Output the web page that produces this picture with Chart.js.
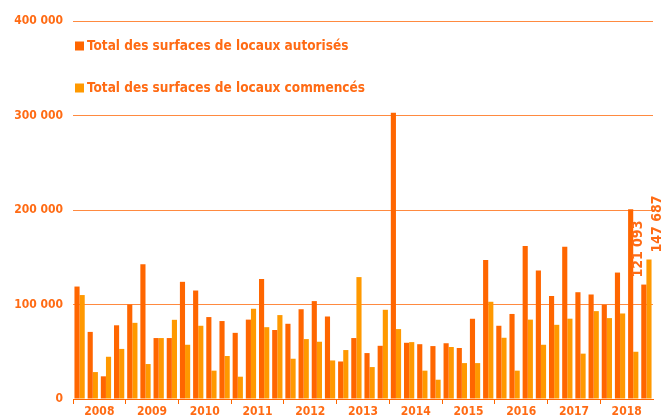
<!DOCTYPE html>
<html>
<head>
<meta charset="utf-8">
<script src="https://cdn.jsdelivr.net/npm/chart.js@4"></script>
<style>
html,body{margin:0;padding:0;background:#fff;}
#wrap{width:668px;height:419px;position:relative;}
</style>
</head>
<body>
<div id="wrap"><canvas id="c" width="668" height="419"></canvas></div>
<script>
const years = ['2008','2009','2010','2011','2012','2013','2014','2015','2016','2017','2018'];
const quarters = ['T1','T2','T3','T4'];
const yTicks = [0, 100000, 200000, 300000, 400000];
const seriesNames = ['Total des surfaces de locaux autorisés', 'Total des surfaces de locaux commencés'];
const autorises = [
  119000, 71000, 24000, 78000,
  100000, 142700, 64500, 64500,
  124000, 114800, 86700, 82500,
  70000, 84000, 127000, 73000,
  79600, 95000, 103600, 87300,
  39700, 64500, 48600, 56300,
  303000, 59500, 58000, 56000,
  59000, 54000, 84900, 147000,
  77500, 90000, 162000, 136000,
  109000, 161000, 113000, 110600,
  99700, 133800, 200800, 121093
];
const commences = [
  110000, 28500, 44700, 53000,
  80600, 37000, 64500, 83800,
  57400, 77500, 30000, 45500,
  23600, 95500, 76000, 88800,
  42600, 63400, 60600, 40800,
  51800, 129000, 33800, 94400,
  74000, 60200, 30000, 20400,
  55000, 38000, 38000, 102900,
  64800, 30000, 84000, 57400,
  78500, 85000, 48000, 93000,
  85600, 90500, 50000, 147687
];

const categories = [];
years.forEach(y => quarters.forEach(q => categories.push(y + ' ' + q)));

const TXT = '#FF6B14';
const C_AUT = '#FF6600';
const C_COM = '#FF9900';
const FAM = "'DejaVu Sans Condensed', 'DejaVu Sans', sans-serif";

function fmt(v){ return String(Math.round(v)).replace(/\B(?=(\d{3})+(?!\d))/g, ' '); }

const legendPlugin = {
  id: 'legendInside',
  afterDraw(chart){
    const ctx = chart.ctx, a = chart.chartArea;
    const cols = [C_AUT, C_COM];
    const ys = [a.top + 25, a.top + 67];
    ctx.save();
    ctx.font = 'bold 13.5px ' + FAM;
    ctx.textBaseline = 'middle';
    ctx.textAlign = 'left';
    for (let i = 0; i < 2; i++) {
      ctx.fillStyle = cols[i];
      ctx.fillRect(a.left + 2, ys[i] - 4.5, 9, 9);
      ctx.fillStyle = TXT;
      ctx.fillText(seriesNames[i], a.left + 14, ys[i]);
    }
    ctx.restore();
  }
};

const lastLabels = {
  id: 'lastLabels',
  afterDatasetsDraw(chart){
    const ctx = chart.ctx;
    const n = categories.length - 1;
    const specs = [{ds:0, dx:-5}, {ds:1, dx:8.5}];
    ctx.save();
    ctx.font = 'bold 14px ' + FAM;
    ctx.fillStyle = TXT;
    ctx.textAlign = 'left';
    ctx.textBaseline = 'middle';
    specs.forEach(s => {
      const el = chart.getDatasetMeta(s.ds).data[n];
      const v = chart.data.datasets[s.ds].data[n];
      ctx.save();
      ctx.translate(el.x + s.dx, el.y - 7);
      ctx.rotate(-Math.PI / 2);
      ctx.fillText(fmt(v), 0, 0);
      ctx.restore();
    });
    ctx.restore();
  }
};

new Chart(document.getElementById('c'), {
  type: 'bar',
  data: {
    labels: categories,
    datasets: [
      { label: seriesNames[0], data: autorises, backgroundColor: C_AUT, categoryPercentage: 0.78, barPercentage: 1 },
      { label: seriesNames[1], data: commences, backgroundColor: C_COM, categoryPercentage: 0.78, barPercentage: 1 }
    ]
  },
  options: {
    responsive: false,
    animation: false,
    layout: { padding: { top: 21, right: 15, left: 0, bottom: 0 } },
    plugins: { legend: { display: false }, tooltip: { enabled: false } },
    scales: {
      x: {
        offset: true,
        grid: {
          offset: true,
          drawOnChartArea: false,
          drawTicks: true,
          tickLength: 5,
          color: ctx => (ctx.index % 4 === 0 ? C_AUT : 'rgba(0,0,0,0)')
        },
        border: { display: true, color: C_AUT, width: 1 },
        ticks: {
          autoSkip: false,
          maxRotation: 0,
          minRotation: 0,
          padding: 1,
          labelOffset: 6.6,
          color: TXT,
          font: { family: FAM, weight: 'bold', size: 12 },
          callback: (v, i) => (i % 4 === 1 ? years[Math.floor(i / 4)] : '')
        },
        afterFit: s => { s.height = 20; }
      },
      y: {
        min: 0,
        max: 400000,
        afterBuildTicks: s => { s.ticks = yTicks.map(v => ({ value: v })); },
        grid: { color: '#FF8A40', lineWidth: 1, drawTicks: false },
        border: { display: false },
        ticks: {
          padding: 10,
          color: TXT,
          font: { family: FAM, weight: 'bold', size: 12 },
          callback: v => fmt(v)
        },
        afterFit: s => { s.width = 73; }
      }
    }
  },
  plugins: [legendPlugin, lastLabels]
});
</script>
</body>
</html>
